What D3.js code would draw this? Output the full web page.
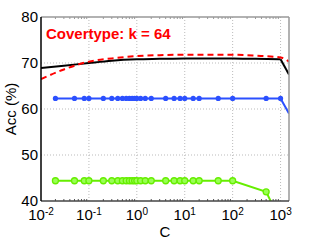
<!DOCTYPE html>
<html>
<head>
<meta charset="utf-8">
<script src="https://cdn.jsdelivr.net/npm/d3@7"></script>
<style>
  body { margin: 0; background: #fff; }
  text { font-family: "Liberation Sans", Arial, sans-serif; }
</style>
</head>
<body>
<div id="chart"></div>
<script>
// C values where the markers sit
const cPoints = [0.02, 0.05, 0.08, 0.1, 0.2, 0.3, 0.4, 0.5, 0.6, 0.7, 0.8, 0.9, 1, 1.2, 1.5, 2, 4, 6, 8, 10, 15, 20, 50, 100, 500, 1000, 1500];
const blueAcc = [62.3, 62.3, 62.3, 62.3, 62.3, 62.3, 62.3, 62.3, 62.3, 62.3, 62.3, 62.3, 62.3, 62.3, 62.3, 62.3, 62.3, 62.3, 62.3, 62.3, 62.3, 62.3, 62.3, 62.3, 62.3, 62.3, 59.0];
const greenAcc = [44.4, 44.4, 44.4, 44.4, 44.4, 44.4, 44.4, 44.4, 44.4, 44.4, 44.4, 44.4, 44.4, 44.4, 44.4, 44.4, 44.4, 44.4, 44.4, 44.4, 44.4, 44.4, 44.4, 44.4, 42.0, 35.6, 30];

// smooth curves (no markers)
const cCurve = [0.01, 0.03, 0.1, 0.3, 1, 3, 10, 30, 100, 300, 1000, 1500];
const blackAcc = [68.9, 69.4, 70.0, 70.5, 70.8, 70.9, 71.0, 71.0, 71.0, 70.9, 70.8, 67.5];
const redAcc = [66.5, 68.6, 70.3, 71.0, 71.5, 71.7, 71.8, 71.8, 71.8, 71.6, 71.2, 70.3];

const yTicks = [40, 50, 60, 70, 80];
const xTicks = [0.01, 0.1, 1, 10, 100, 1000];
const xTickExp = ["-2", "-1", "0", "1", "2", "3"];
const title = "Covertype: k = 64";

const W = 319, H = 240;
const margin = { top: 17, right: 30, bottom: 39, left: 41 };
const width = W - margin.left - margin.right;
const height = H - margin.top - margin.bottom;

const svg = d3.select("#chart").append("svg")
  .attr("width", W).attr("height", H);

const g = svg.append("g")
  .attr("transform", `translate(${margin.left},${margin.top})`);

const x = d3.scaleLog().domain([0.01, 1500]).range([0, width]);
const y = d3.scaleLinear().domain([40, 80]).range([height, 0]);

// grid
g.append("g").selectAll("line")
  .data(xTicks.slice(1))
  .enter().append("line")
  .attr("x1", d => x(d)).attr("x2", d => x(d))
  .attr("y1", 0).attr("y2", height)
  .attr("stroke", "#bbb").attr("stroke-dasharray", "1,2");

g.append("g").selectAll("line")
  .data(yTicks.slice(1, -1))
  .enter().append("line")
  .attr("x1", 0).attr("x2", width)
  .attr("y1", d => y(d)).attr("y2", d => y(d))
  .attr("stroke", "#bbb").attr("stroke-dasharray", "1,2");

// minor ticks on log axis
const minor = [];
for (let e = -2; e <= 3; e++) {
  for (let m = 2; m <= 9; m++) {
    const v = m * Math.pow(10, e);
    if (v <= 1500) minor.push(v);
  }
}
g.append("g").selectAll("line")
  .data(minor)
  .enter().append("line")
  .attr("x1", d => x(d)).attr("x2", d => x(d))
  .attr("y1", height).attr("y2", height - 2)
  .attr("stroke", "#555");
g.append("g").selectAll("line")
  .data(minor)
  .enter().append("line")
  .attr("x1", d => x(d)).attr("x2", d => x(d))
  .attr("y1", 0).attr("y2", 2)
  .attr("stroke", "#999");

// clip for data
svg.append("clipPath").attr("id", "clip")
  .append("rect").attr("width", width).attr("height", height);

const plot = g.append("g").attr("clip-path", "url(#clip)");

const line = d3.line()
  .x(d => x(d[0]))
  .y(d => y(d[1]));

const curve = d3.line()
  .x(d => x(d[0]))
  .y(d => y(d[1]))
  .curve(d3.curveMonotoneX);

plot.append("path")
  .datum(cCurve.slice(0, -1).map((c, i) => [c, blackAcc[i]]))
  .attr("d", curve)
  .attr("fill", "none").attr("stroke", "#000").attr("stroke-width", 2);
plot.append("path")
  .datum([[1000, blackAcc[10]], [1500, blackAcc[11]]])
  .attr("d", line)
  .attr("fill", "none").attr("stroke", "#000").attr("stroke-width", 2);

plot.append("path")
  .datum(cCurve.map((c, i) => [c, redAcc[i]]))
  .attr("d", curve)
  .attr("fill", "none").attr("stroke", "#ff0000").attr("stroke-width", 2)
  .attr("stroke-dasharray", "6,4");

const blueColor = "#2b50ff";
const greenColor = "#66ee00";

plot.append("path")
  .datum(cPoints.map((c, i) => [c, blueAcc[i]]))
  .attr("d", line)
  .attr("fill", "none").attr("stroke", blueColor).attr("stroke-width", 2);
plot.selectAll(".bdot")
  .data(cPoints.slice(0, -1).map((c, i) => [c, blueAcc[i]]))
  .enter().append("circle")
  .attr("class", "bdot")
  .attr("cx", d => x(d[0])).attr("cy", d => y(d[1]))
  .attr("r", 2.6).attr("fill", blueColor);

plot.append("path")
  .datum(cPoints.map((c, i) => [c, greenAcc[i]]))
  .attr("d", line)
  .attr("fill", "none").attr("stroke", greenColor).attr("stroke-width", 2);
plot.selectAll(".gdot")
  .data(cPoints.slice(0, -1).map((c, i) => [c, greenAcc[i]]))
  .enter().append("circle")
  .attr("class", "gdot")
  .attr("cx", d => x(d[0])).attr("cy", d => y(d[1]))
  .attr("r", 3).attr("fill", "#9f5").attr("stroke", greenColor).attr("stroke-width", 1.3);

// frame
g.append("line").attr("x1", 0).attr("x2", width).attr("y1", 0).attr("y2", 0)
  .attr("stroke", "#999").attr("stroke-width", 1.5);
g.append("line").attr("x1", width).attr("x2", width).attr("y1", 0).attr("y2", height)
  .attr("stroke", "#999").attr("stroke-width", 1.5);
g.append("line").attr("x1", 0).attr("x2", width).attr("y1", height).attr("y2", height)
  .attr("stroke", "#444").attr("stroke-width", 1.5);
g.append("line").attr("x1", 0).attr("x2", 0).attr("y1", 0).attr("y2", height)
  .attr("stroke", "#000").attr("stroke-width", 1.5);

// y tick labels
g.append("g").selectAll("text")
  .data(yTicks)
  .enter().append("text")
  .attr("x", -3).attr("y", d => y(d))
  .attr("dy", "0.33em")
  .attr("text-anchor", "end")
  .style("font-size", "15px")
  .text(d => d);

// x tick labels with superscripts
const xl = g.append("g").selectAll("text")
  .data(xTicks)
  .enter().append("text")
  .attr("x", d => x(d))
  .attr("y", height + 19)
  .attr("text-anchor", "middle")
  .style("font-size", "15px");
xl.append("tspan").text("10");
xl.append("tspan")
  .attr("dy", "-0.5em")
  .style("font-size", "10px")
  .text((d, i) => xTickExp[i]);

// axis titles
g.append("text")
  .attr("x", width / 2).attr("y", height + 36)
  .attr("text-anchor", "middle")
  .style("font-size", "15px")
  .text("C");

g.append("text")
  .attr("transform", "rotate(-90)")
  .attr("x", -height / 2).attr("y", -25)
  .attr("text-anchor", "middle")
  .style("font-size", "15px")
  .text("Acc (%)");

g.append("text")
  .attr("x", 5).attr("y", 22)
  .style("font-size", "15px")
  .style("font-weight", "bold")
  .attr("fill", "#ff0000")
  .text(title);
</script>
</body>
</html>
